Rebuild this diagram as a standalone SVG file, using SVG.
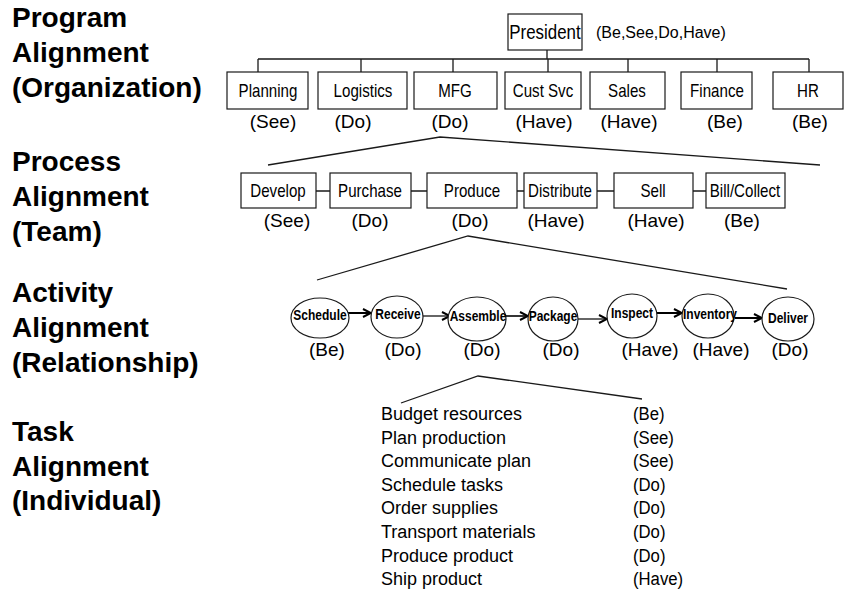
<svg xmlns="http://www.w3.org/2000/svg" width="844" height="596" viewBox="0 0 844 596">
  <defs>
    <style>
      .lvl { font: bold 28px "Liberation Sans", Arial, sans-serif; fill: #000; }
      .box { fill: #fff; stroke: #1a1a1a; stroke-width: 1.2; }
      .bx { font: 18px "Liberation Sans", Arial, sans-serif; text-anchor: middle; fill: #000; }
      .tag { font: 19px "Liberation Sans", Arial, sans-serif; text-anchor: middle; fill: #000; }
      .act { fill: #fff; stroke: #1a1a1a; stroke-width: 1.2; }
      .at { font: bold 15px "Liberation Sans", Arial, sans-serif; text-anchor: middle; fill: #000; }
      .task { font: 18px "Liberation Sans", Arial, sans-serif; fill: #000; }
      .tk { font: 19px "Liberation Sans", Arial, sans-serif; fill: #000; }
      .ln { fill: none; stroke: #1a1a1a; stroke-width: 1.3; }
      .ar { fill: none; stroke: #000; marker-end: url(#vee); }
    </style>
    <marker id="vee" viewBox="0 0 10 10" refX="9" refY="5" markerWidth="10" markerHeight="10" markerUnits="userSpaceOnUse" orient="auto">
      <path d="M1,1 L9,5 L1,9" fill="none" stroke="#000" stroke-width="2"/>
    </marker>
  </defs>
  <rect width="844" height="596" fill="#fff"/>

  <!-- level titles -->
  <g id="levels">
    <text class="lvl" x="12" y="27">Program</text>
    <text class="lvl" x="12" y="62">Alignment</text>
    <text class="lvl" x="12" y="97">(Organization)</text>
    <text class="lvl" x="12" y="171">Process</text>
    <text class="lvl" x="12" y="206">Alignment</text>
    <text class="lvl" x="12" y="241">(Team)</text>
    <text class="lvl" x="12" y="302">Activity</text>
    <text class="lvl" x="12" y="337">Alignment</text>
    <text class="lvl" x="12" y="372">(Relationship)</text>
    <text class="lvl" x="12" y="441">Task</text>
    <text class="lvl" x="12" y="476">Alignment</text>
    <text class="lvl" x="12" y="510">(Individual)</text>
  </g>

  <!-- connectors -->
  <g id="connectors">
    <!-- org chart bus -->
    <path class="ln" d="M547,50 V59 M258,59 H809 M258,59 V72 M361,59 V72 M453,59 V72 M548,59 V72 M628,59 V72 M717,59 V72 M809,59 V72"/>
    <!-- expansion wedges -->
    <polyline class="ln" points="268,165 440,137 820,165"/>
    <polyline class="ln" points="317,280 468,236 787,289"/>
    <polyline class="ln" points="401,403 478,376 642,399"/>
    <!-- process links -->
    <path class="ln" d="M316,191 H330 M411,191 H427 M517,191 H524 M597,191 H614 M693,191 H706"/>
    <!-- activity flow -->
    <line class="ar" x1="343" y1="313" x2="371" y2="313" stroke-width="2"/>
    <line class="ar" x1="423" y1="316" x2="450" y2="316" stroke-width="1.2"/>
    <line class="ar" x1="506" y1="316" x2="528" y2="316" stroke-width="1.6"/>
    <line class="ar" x1="578" y1="319" x2="607" y2="319" stroke-width="1.2"/>
    <line class="ar" x1="656" y1="313" x2="682" y2="313" stroke-width="2"/>
    <line class="ar" x1="735" y1="318" x2="762" y2="318" stroke-width="2"/>
  </g>

  <!-- organization -->
  <g id="president">
    <rect class="box" x="508" y="14" width="74" height="36"/>
    <text class="bx" transform="translate(545 39) scale(0.845 1)" style="font-size:20px">President</text>
    <text x="596" y="38" style="font: 16px 'Liberation Sans', Arial, sans-serif">(Be,See,Do,Have)</text>
  </g>
  <g id="planning">
    <rect class="box" x="227" y="72" width="81" height="37"/>
    <text class="bx" transform="translate(268 97) scale(0.84 1)">Planning</text>
    <text class="tag" x="273" y="128">(See)</text>
  </g>
  <g id="logistics">
    <rect class="box" x="318" y="72" width="89" height="37"/>
    <text class="bx" transform="translate(363 97) scale(0.84 1)">Logistics</text>
    <text class="tag" x="353" y="128">(Do)</text>
  </g>
  <g id="mfg">
    <rect class="box" x="414" y="72" width="83" height="37"/>
    <text class="bx" transform="translate(455 97) scale(0.84 1)">MFG</text>
    <text class="tag" x="450" y="128">(Do)</text>
  </g>
  <g id="custsvc">
    <rect class="box" x="505" y="72" width="76" height="37"/>
    <text class="bx" transform="translate(543 97) scale(0.84 1)">Cust Svc</text>
    <text class="tag" x="544" y="128">(Have)</text>
  </g>
  <g id="sales">
    <rect class="box" x="590" y="72" width="75" height="37"/>
    <text class="bx" transform="translate(627 97) scale(0.84 1)">Sales</text>
    <text class="tag" x="629" y="128">(Have)</text>
  </g>
  <g id="finance">
    <rect class="box" x="681" y="72" width="71" height="37"/>
    <text class="bx" transform="translate(717 97) scale(0.84 1)">Finance</text>
    <text class="tag" x="725" y="128">(Be)</text>
  </g>
  <g id="hr">
    <rect class="box" x="773" y="72" width="70" height="37"/>
    <text class="bx" transform="translate(808 97) scale(0.84 1)">HR</text>
    <text class="tag" x="810" y="128">(Be)</text>
  </g>

  <!-- process -->
  <g id="develop">
    <rect class="box" x="241" y="173" width="75" height="35"/>
    <text class="bx" transform="translate(278 197) scale(0.84 1)">Develop</text>
    <text class="tag" x="287" y="227">(See)</text>
  </g>
  <g id="purchase">
    <rect class="box" x="330" y="173" width="81" height="35"/>
    <text class="bx" transform="translate(370 197) scale(0.84 1)">Purchase</text>
    <text class="tag" x="370" y="227">(Do)</text>
  </g>
  <g id="produce">
    <rect class="box" x="427" y="173" width="90" height="35"/>
    <text class="bx" transform="translate(472 197) scale(0.84 1)">Produce</text>
    <text class="tag" x="470" y="227">(Do)</text>
  </g>
  <g id="distribute">
    <rect class="box" x="524" y="173" width="73" height="35"/>
    <text class="bx" transform="translate(560 197) scale(0.84 1)">Distribute</text>
    <text class="tag" x="556" y="227">(Have)</text>
  </g>
  <g id="sell">
    <rect class="box" x="614" y="173" width="79" height="35"/>
    <text class="bx" transform="translate(653 197) scale(0.84 1)">Sell</text>
    <text class="tag" x="656" y="227">(Have)</text>
  </g>
  <g id="billcollect">
    <rect class="box" x="706" y="173" width="79" height="35"/>
    <text class="bx" transform="translate(745 197) scale(0.84 1)">Bill/Collect</text>
    <text class="tag" x="742" y="227">(Be)</text>
  </g>

  <!-- activities -->
  <g id="schedule">
    <ellipse class="act" cx="320" cy="318" rx="29" ry="20"/>
    <text class="at" transform="translate(320 320) scale(0.8 1)">Schedule</text>
    <text class="tag" x="327" y="356">(Be)</text>
  </g>
  <g id="receive">
    <ellipse class="act" cx="397" cy="317" rx="26" ry="21"/>
    <text class="at" transform="translate(398 319) scale(0.8 1)">Receive</text>
    <text class="tag" x="403" y="356">(Do)</text>
  </g>
  <g id="assemble">
    <ellipse class="act" cx="477" cy="319" rx="29" ry="22"/>
    <text class="at" transform="translate(478 321) scale(0.8 1)">Assemble</text>
    <text class="tag" x="482" y="356">(Do)</text>
  </g>
  <g id="package">
    <ellipse class="act" cx="553" cy="319" rx="25" ry="22"/>
    <text class="at" transform="translate(553 321) scale(0.8 1)">Package</text>
    <text class="tag" x="561" y="356">(Do)</text>
  </g>
  <g id="inspect">
    <ellipse class="act" cx="632" cy="316" rx="25" ry="22"/>
    <text class="at" transform="translate(632 318) scale(0.8 1)">Inspect</text>
    <text class="tag" x="650" y="356">(Have)</text>
  </g>
  <g id="inventory">
    <ellipse class="act" cx="708" cy="316" rx="26" ry="22"/>
    <text class="at" transform="translate(710 319) scale(0.8 1)">Inventory</text>
    <text class="tag" x="721" y="356">(Have)</text>
  </g>
  <g id="deliver">
    <ellipse class="act" cx="788" cy="319" rx="26" ry="22"/>
    <text class="at" transform="translate(788 323) scale(0.8 1)">Deliver</text>
    <text class="tag" x="790" y="356">(Do)</text>
  </g>

  <!-- tasks -->
  <g id="tasks">
    <text class="task" x="381" y="420">Budget resources</text>
    <text class="task" x="381" y="443.6">Plan production</text>
    <text class="task" x="381" y="467.2">Communicate plan</text>
    <text class="task" x="381" y="490.8">Schedule tasks</text>
    <text class="task" x="381" y="514.4">Order supplies</text>
    <text class="task" x="381" y="538">Transport materials</text>
    <text class="task" x="381" y="561.6">Produce product</text>
    <text class="task" x="381" y="585.2">Ship product</text>
    <text class="tk" transform="translate(633 420) scale(0.88 1)">(Be)</text>
    <text class="tk" transform="translate(633 443.6) scale(0.88 1)">(See)</text>
    <text class="tk" transform="translate(633 467.2) scale(0.88 1)">(See)</text>
    <text class="tk" transform="translate(633 490.8) scale(0.88 1)">(Do)</text>
    <text class="tk" transform="translate(633 514.4) scale(0.88 1)">(Do)</text>
    <text class="tk" transform="translate(633 538) scale(0.88 1)">(Do)</text>
    <text class="tk" transform="translate(633 561.6) scale(0.88 1)">(Do)</text>
    <text class="tk" transform="translate(633 585.2) scale(0.88 1)">(Have)</text>
  </g>
</svg>
